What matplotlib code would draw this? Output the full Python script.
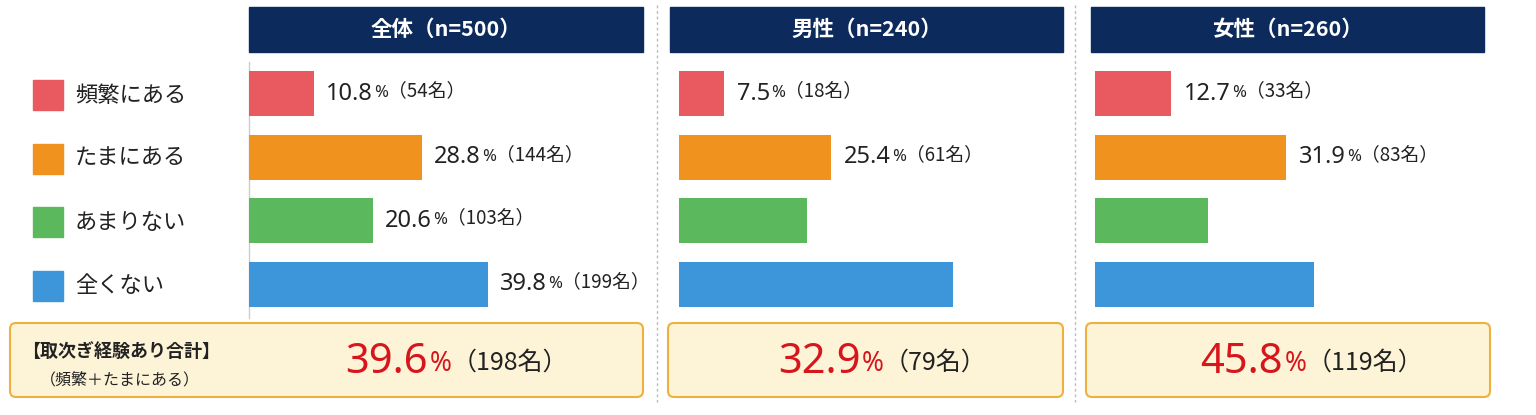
import matplotlib
matplotlib.use("Agg")
import matplotlib.pyplot as plt
from matplotlib.patches import Rectangle, FancyBboxPatch

plt.rcParams['font.family'] = ['Noto Sans CJK JP', 'DejaVu Sans']
NUMF = ['Noto Sans', 'Noto Sans CJK JP']

categories = ["頻繁にある", "たまにある", "あまりない", "全くない"]
colors = ["#e85a60", "#f0921e", "#5cb85c", "#3d96da"]
panels = ["全体（n=500）", "男性（n=240）", "女性（n=260）"]
values = [[10.8, 28.8, 20.6, 39.8], [7.5, 25.4, 21.4, 45.7], [12.7, 31.9, 18.9, 36.5]]
counts = [[54, 144, 103, 199], [18, 61, None, None], [33, 83, None, None]]
show_label = [[True, True, True, True], [True, True, False, False], [True, True, False, False]]
totals = [39.6, 32.9, 45.8]
total_counts = [198, 79, 119]

W, H = 1536, 415
fig = plt.figure(figsize=(W/100, H/100), dpi=100)
bg = fig.add_axes([0, 0, 1, 1])
bg.set_xlim(0, W); bg.set_ylim(H, 0); bg.axis('off')

def fx(px): return px / W
def fy(py): return 1 - py / H

pxper = 6.0
starts = [249, 679, 1095]
hdr = [(249, 643), (670, 1063), (1091, 1484)]
sbox = [(10, 643), (668, 1063), (1086, 1490)]
navy = "#0c2a5b"

for x in [657, 1075]:
    bg.plot([x, x], [5, 402], ls=(0, (2, 2)), color="#bbbbbb", lw=1)

for i, (c, col) in enumerate(zip(categories, colors)):
    yc = 95 + i*63.5
    bg.add_patch(Rectangle((33, yc-15), 30, 30, color=col))
    bg.text(75, yc, c, fontsize=16, va='center', ha='left', color="#222222")

for p in range(3):
    x0, x1 = hdr[p]
    bg.add_patch(Rectangle((x0, 7), x1-x0, 45, color=navy))
    bg.text((x0+x1)/2, 29.5, panels[p], color='white', fontsize=15.5, fontweight='bold',
            ha='center', va='center')
    width = 385 if p == 0 else 375
    ax = fig.add_axes([fx(starts[p]), fy(316), width/W, (316-62)/H])
    ax.set_xlim(0, width/pxper); ax.set_ylim(3.5, -0.5)
    ax.axis('off')
    ax.barh(range(4), values[p], color=colors, height=0.71)
    for i in range(4):
        if not show_label[p][i]:
            continue
        t = ax.annotate(f"{values[p][i]:.1f}", xy=(values[p][i], i), xytext=(9, 0),
                        textcoords='offset points', fontsize=17, fontweight='bold',
                        family=NUMF, va='center', ha='left', color="#222222")
        t2 = ax.annotate("%", xy=(1, 0.18), xycoords=t, xytext=(1, 0), textcoords='offset points',
                         fontsize=12, fontweight='bold', family=NUMF, va='bottom', ha='left',
                         color="#222222")
        ax.annotate(f"（{counts[p][i]}名）", xy=(1, 0), xycoords=t2, fontsize=13.5,
                    va='bottom', ha='left', color="#222222")
    if p == 0:
        bg.plot([249, 249], [62, 318], color="#cccccc", lw=1)
    sx0, sx1 = sbox[p]
    bg.add_patch(FancyBboxPatch((sx0, 323), sx1-sx0, 74, boxstyle="round,pad=0,rounding_size=6",
                                facecolor="#fdf4d8", edgecolor="#f0b040", lw=1.5))
    cx = 428 if p == 0 else (sx0+sx1)/2 - 5
    t = bg.annotate(f"{totals[p]:.1f}", xy=(cx, 362), fontsize=30, fontweight='bold',
                    family=NUMF, color="#d7161c", ha='right', va='center')
    t2 = bg.annotate("%", xy=(1, 0.12), xycoords=t, xytext=(1, 0), textcoords='offset points',
                     fontsize=19, fontweight='bold', family=NUMF, color="#d7161c", va='bottom')
    bg.annotate(f"（{total_counts[p]}名）", xy=(1, 0.08), xycoords=t2, fontsize=18,
                color="#222222", va='bottom')

bg.text(22, 352, "【取次ぎ経験あり合計】", fontsize=13, fontweight='bold', va='center', color="#222222")
bg.text(40, 380, "（頻繁＋たまにある）", fontsize=11.5, va='center', color="#222222")

fig.savefig("out.png", dpi=100, facecolor='white')
